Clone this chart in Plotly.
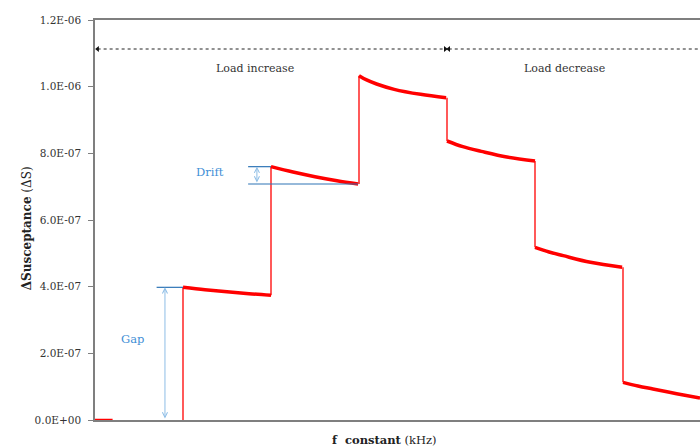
import plotly.graph_objects as go

# Susceptance steps under constant frequency: load increase then load decrease
base_x = [0.0, 0.2]
base_y = [0.0, 0.0]

seg1_x = [1.0, 1.25, 1.5, 1.75, 2.0]
seg1_y = [3.98e-7, 3.91e-7, 3.85e-7, 3.79e-7, 3.74e-7]

seg2_x = [2.0, 2.25, 2.5, 2.75, 2.99]
seg2_y = [7.60e-7, 7.44e-7, 7.30e-7, 7.18e-7, 7.08e-7]

seg3_x = [3.0, 3.08, 3.2, 3.4, 3.7, 3.99]
seg3_y = [1.033e-6, 1.021e-6, 1.008e-6, 0.992e-6, 0.977e-6, 0.967e-6]

seg4_x = [4.0, 4.18, 4.39, 4.68, 5.0]
seg4_y = [8.37e-7, 8.20e-7, 8.06e-7, 7.89e-7, 7.77e-7]

seg5_x = [5.0, 5.16, 5.32, 5.63, 5.99]
seg5_y = [5.18e-7, 5.04e-7, 4.93e-7, 4.73e-7, 4.58e-7]

seg6_x = [6.0, 6.17, 6.34, 6.61, 6.875]
seg6_y = [1.13e-7, 1.02e-7, 0.93e-7, 0.79e-7, 0.66e-7]

y_ticks = [0.0, 2e-7, 4e-7, 6e-7, 8e-7, 1.0e-6, 1.2e-6]
y_tick_text = ["0.0E+00", "2.0E-07", "4.0E-07", "6.0E-07", "8.0E-07", "1.0E-06", "1.2E-06"]

RED = "#FF0000"
BLUE_TXT = "#3F8FD6"
BLUE_LINE = "#2E75B6"
BLUE_ARROW = "#8DBDE6"
FONT = "DejaVu Serif"
GRAY = "#7F7F7F"

segments = [(seg1_x, seg1_y), (seg2_x, seg2_y), (seg3_x, seg3_y),
            (seg4_x, seg4_y), (seg5_x, seg5_y), (seg6_x, seg6_y)]

fig = go.Figure()

# thin vertical jumps between consecutive plateaus
prev_y = 0.0
for sx, sy in segments:
    fig.add_trace(go.Scatter(x=[sx[0], sx[0]], y=[prev_y, sy[0]], mode="lines",
                             line=dict(color=RED, width=1.3),
                             hoverinfo="skip", showlegend=False))
    prev_y = sy[-1]

# thick drift curves
fig.add_trace(go.Scatter(x=base_x, y=base_y, mode="lines",
                         line=dict(color=RED, width=2.5), showlegend=False))
for sx, sy in segments:
    fig.add_trace(go.Scatter(x=sx, y=sy, mode="lines",
                             line=dict(color=RED, width=3.5, shape="spline", smoothing=1.0),
                             showlegend=False))

# load increase / decrease dotted arrows
arrow_y = 1.113e-6
for x0, x1 in [(0.03, 3.98), (4.02, 6.99)]:
    fig.add_trace(go.Scatter(x=[x0, x1], y=[arrow_y, arrow_y], mode="lines+markers",
                             line=dict(color="#222222", width=1, dash="dot"),
                             marker=dict(symbol=["triangle-left", "triangle-right"],
                                         size=5, color="#111111"),
                             hoverinfo="skip", showlegend=False))

# drift marker lines
drift_top = seg2_y[0]
drift_bot = seg2_y[-1]
fig.add_trace(go.Scatter(x=[1.74, 2.0], y=[drift_top, drift_top], mode="lines",
                         line=dict(color=BLUE_LINE, width=1.2), showlegend=False))
fig.add_trace(go.Scatter(x=[1.74, 2.99], y=[drift_bot, drift_bot], mode="lines",
                         line=dict(color=BLUE_LINE, width=1.2), showlegend=False))
# gap marker line
gap_top = seg1_y[0]
fig.add_trace(go.Scatter(x=[0.70, 1.0], y=[gap_top, gap_top], mode="lines",
                         line=dict(color=BLUE_LINE, width=1.2), showlegend=False))

annotations = [
    dict(x=1.84, y=drift_top, ax=1.84, ay=drift_bot, xref="x", yref="y", axref="x", ayref="y",
         showarrow=True, arrowhead=5, arrowside="end+start", arrowwidth=1, arrowsize=1,
         arrowcolor=BLUE_ARROW, text=""),
    dict(x=0.795, y=gap_top, ax=0.795, ay=0.0, xref="x", yref="y", axref="x", ayref="y",
         showarrow=True, arrowhead=5, arrowside="end+start", arrowwidth=1, arrowsize=1,
         arrowcolor=BLUE_ARROW, text=""),
    dict(x=1.31, y=7.44e-7, xref="x", yref="y", text="Drift", showarrow=False,
         xanchor="center", yanchor="middle",
         font=dict(family=FONT, size=11.5, color=BLUE_TXT)),
    dict(x=0.43, y=2.43e-7, xref="x", yref="y", text="Gap", showarrow=False,
         xanchor="center", yanchor="middle",
         font=dict(family=FONT, size=11.5, color=BLUE_TXT)),
    dict(x=1.82, y=1.056e-6, xref="x", yref="y", text="Load increase", showarrow=False,
         xanchor="center", yanchor="middle",
         font=dict(family=FONT, size=11, color="#333333")),
    dict(x=5.34, y=1.056e-6, xref="x", yref="y", text="Load decrease", showarrow=False,
         xanchor="center", yanchor="middle",
         font=dict(family=FONT, size=11, color="#333333")),
    dict(x=-0.112, y=0.48, xref="paper", yref="paper", textangle=-90, showarrow=False,
         xanchor="center", yanchor="middle",
         text="<b>ΔSusceptance</b> (ΔS)", font=dict(family=FONT, size=12, color="#222222")),
    dict(x=0.478, y=-0.05, xref="paper", yref="paper", showarrow=False,
         xanchor="center", yanchor="middle",
         text="<b>f  constant</b> (kHz)", font=dict(family=FONT, size=11.5, color="#222222")),
]

fig.update_layout(
    width=700, height=448,
    margin=dict(l=95, r=0, t=20, b=28),
    paper_bgcolor="white", plot_bgcolor="white",
    annotations=annotations,
    showlegend=False,
)
fig.update_xaxes(range=[0, 6.875], showgrid=False, zeroline=False, showticklabels=False,
                 ticks="", showline=True, linecolor=GRAY, linewidth=1.5, mirror=True)
fig.update_yaxes(range=[0, 1.2e-6], tickvals=y_ticks, ticktext=y_tick_text,
                 showgrid=False, zeroline=False, ticks="outside", ticklen=5,
                 ticklabelstandoff=5,
                 tickcolor=GRAY, showline=True, linecolor=GRAY, linewidth=1.5,
                 tickfont=dict(family=FONT, size=10.5, color="#333333"))

fig.write_html("out.html")
